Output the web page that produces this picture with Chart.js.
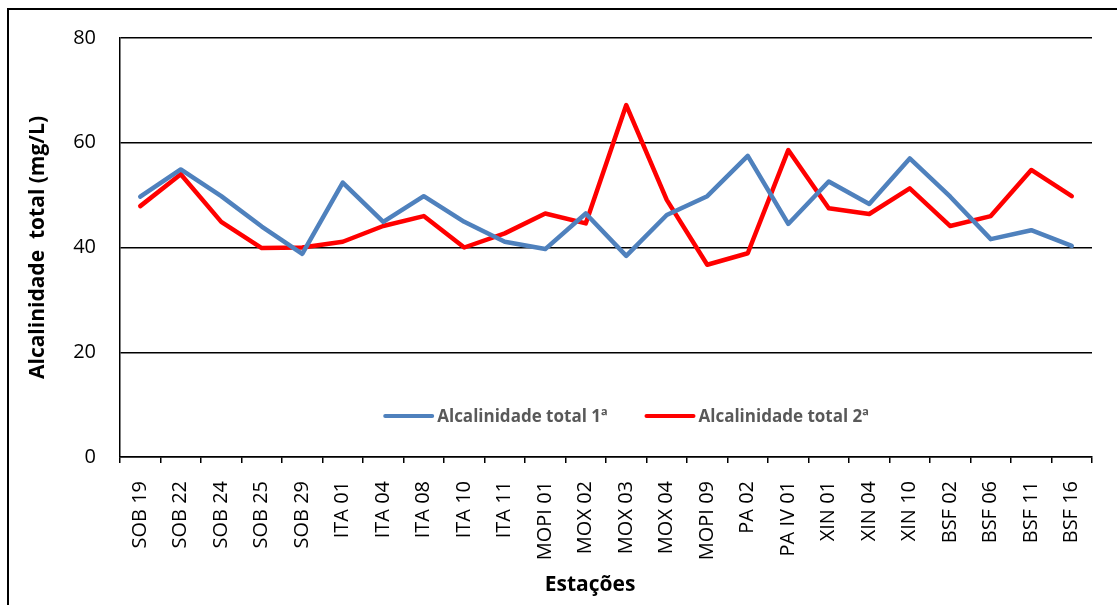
<!DOCTYPE html>
<html>
<head>
<meta charset="utf-8">
<script src="https://cdn.jsdelivr.net/npm/chart.js@4/dist/chart.umd.min.js"></script>
<style>
  html, body { margin: 0; padding: 0; background: #fff; }
  #wrap { position: relative; width: 1117px; height: 605px; overflow: hidden; }
  #frame { position: absolute; left: 7px; top: 8px; width: 1200px; height: 700px;
           border-left: 2px solid #000; border-top: 2px solid #000; box-shadow: 0 1px 0 #ddd; pointer-events: none; }
  canvas { position: absolute; left: 0; top: 0; }
</style>
</head>
<body>
<div id="wrap">
  <canvas id="c" width="1117" height="605"></canvas>
  <div id="frame"></div>
</div>
<script>
// Sampling stations along the river
const stations = [
  'SOB 19', 'SOB 22', 'SOB 24', 'SOB 25', 'SOB 29',
  'ITA 01', 'ITA 04', 'ITA 08', 'ITA 10', 'ITA 11',
  'MOPI 01', 'MOX 02', 'MOX 03', 'MOX 04', 'MOPI 09',
  'PA 02', 'PA IV 01', 'XIN 01', 'XIN 04', 'XIN 10',
  'BSF 02', 'BSF 06', 'BSF 11', 'BSF 16'
];

// Total alkalinity (mg/L), first campaign
const alcalinidade1 = [
  49.7, 54.9, 49.8, 44.0, 38.8,
  52.4, 44.9, 49.8, 44.9, 41.1,
  39.7, 46.5, 38.4, 46.2, 49.8,
  57.5, 44.5, 52.6, 48.3, 57.0,
  49.7, 41.6, 43.3, 40.3
];

// Total alkalinity (mg/L), second campaign
const alcalinidade2 = [
  47.9, 54.0, 44.9, 39.9, 40.0,
  41.1, 44.1, 46.0, 40.0, 42.7,
  46.5, 44.6, 67.2, 49.1, 36.7,
  38.9, 58.6, 47.5, 46.4, 51.3,
  44.1, 46.0, 54.8, 49.8
];

const seriesNames = ['Alcalinidade total 1ª', 'Alcalinidade total 2ª'];
const yTicks = [0, 20, 40, 60, 80];
const xTitle = 'Estações';
const yTitle = 'Alcalinidade  total (mg/L)';

const baseFont = "'Open Sans', Lato, 'Liberation Sans', sans-serif";

// Legend drawn inside the plot area, and the category axis title below the labels
const annotations = {
  id: 'annotations',
  afterDatasetsDraw(chart) {
    const ctx = chart.ctx;
    const area = chart.chartArea;
    const y = 416;
    const sample = 47, gapText = 5, gapItem = 39;
    ctx.save();
    ctx.font = "bold 17px " + baseFont;
    ctx.textBaseline = 'middle';
    const items = chart.data.datasets.map(ds => ({
      label: ds.label, color: ds.borderColor,
      w: sample + gapText + ctx.measureText(ds.label).width
    }));
    const total = items.reduce((s, it) => s + it.w, 0) + gapItem * (items.length - 1);
    let x = (area.left + area.right) / 2 - total / 2 + 21;
    items.forEach(it => {
      ctx.strokeStyle = it.color;
      ctx.lineWidth = 4;
      ctx.lineCap = 'round';
      ctx.beginPath();
      ctx.moveTo(x, y);
      ctx.lineTo(x + sample, y);
      ctx.stroke();
      ctx.fillStyle = '#595959';
      ctx.textAlign = 'left';
      ctx.fillText(it.label, x + sample + gapText, y + 1);
      x += it.w + gapItem;
    });

    ctx.font = "bold 21px " + baseFont;
    ctx.fillStyle = '#000';
    ctx.textAlign = 'center';
    ctx.textBaseline = 'middle';
    ctx.fillText(xTitle, 590, 585);
    ctx.restore();
  }
};

new Chart(document.getElementById('c'), {
  type: 'line',
  data: {
    labels: stations,
    datasets: [
      {
        label: seriesNames[0],
        data: alcalinidade1,
        borderColor: '#4F81BD',
        backgroundColor: '#4F81BD',
        borderWidth: 4.5,
        pointRadius: 0,
        tension: 0,
        borderJoinStyle: 'round',
        borderCapStyle: 'round'
      },
      {
        label: seriesNames[1],
        data: alcalinidade2,
        borderColor: '#FF0000',
        backgroundColor: '#FF0000',
        borderWidth: 4.5,
        pointRadius: 0,
        tension: 0,
        borderJoinStyle: 'round',
        borderCapStyle: 'round'
      }
    ]
  },
  options: {
    responsive: false,
    animation: false,
    devicePixelRatio: 1,
    layout: { padding: { left: 10, right: 25, top: 38, bottom: 4 } },
    plugins: {
      legend: { display: false },
      tooltip: { enabled: false }
    },
    scales: {
      x: {
        offset: true,
        grid: {
          offset: true,
          drawOnChartArea: false,
          drawTicks: true,
          tickLength: 6,
          color: '#000',
          lineWidth: 1.5
        },
        border: { display: true, color: '#000', width: 1.5 },
        ticks: {
          autoSkip: false,
          minRotation: 90,
          maxRotation: 90,
          padding: 18,
          color: '#000',
          font: { family: baseFont, size: 20 }
        },
        afterFit(scale) { scale.height = 605 - 457 - 4; }
      },
      y: {
        min: 0,
        max: 80,
        afterBuildTicks(scale) { scale.ticks = yTicks.map(v => ({ value: v })); },
        grid: {
          color: '#000',
          lineWidth: 1.5,
          drawTicks: false
        },
        border: { display: true, color: '#000', width: 1.5 },
        ticks: {
          padding: 24,
          color: '#000',
          font: { family: baseFont, size: 20 }
        },
        title: {
          display: true,
          text: yTitle,
          color: '#000',
          font: { family: baseFont, size: 21, weight: 'bold' },
          padding: { top: 15, bottom: 0 }
        },
        afterFit(scale) { scale.width = 120 - 10; }
      }
    }
  },
  plugins: [annotations]
});
</script>
</body>
</html>
